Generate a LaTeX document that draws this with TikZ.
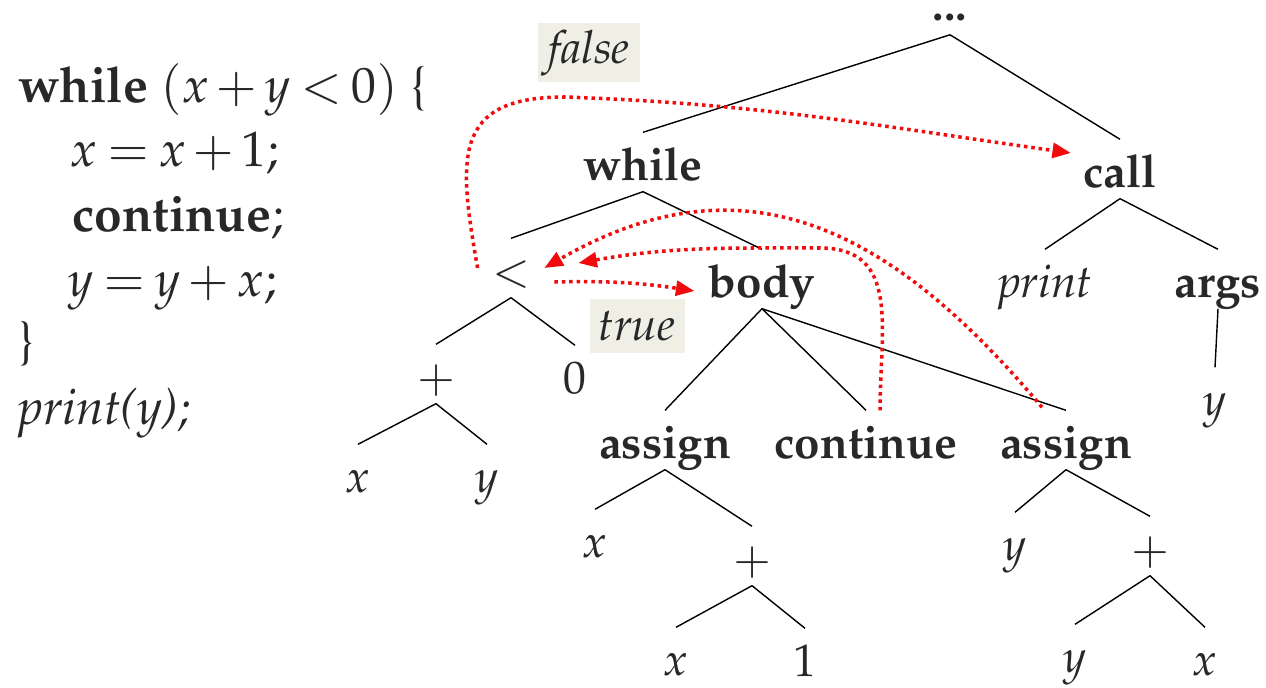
\documentclass[tikz,border=0pt]{standalone}
\usepackage[T1]{fontenc}
\usepackage{mathpazo}
\usetikzlibrary{arrows.meta,calc}

\definecolor{encre}{RGB}{40,40,40}
\definecolor{fond}{RGB}{239,239,229}
\definecolor{rouge}{RGB}{240,12,12}

\newcommand\serre{\thickmuskip=3.5mu\relax\medmuskip=2.5mu\relax}

\tikzset{
  mot/.style={inner xsep=0pt, inner ysep=3.7pt, text height=23.4pt, text depth=2.6pt,
    text=encre, font=\fontsize{26}{30}\selectfont},
  gras/.style={mot, font=\fontsize{26}{30}\selectfont\bfseries},
  code/.style={anchor=base west, inner sep=0pt, text=encre,
    font=\fontsize{28.3}{34}\selectfont},
  etiquette/.style={fill=fond, inner sep=0pt, text=encre, font=\fontsize{26}{30}\selectfont\itshape},
  branche/.style={line width=0.8pt},
  fleche/.style={draw=rouge, line width=2pt, dash pattern=on 2pt off 2.2pt,
    -{Triangle[length=10.5pt,width=8.5pt]}}
}

\begin{document}
\begin{tikzpicture}[x=0.02cm, y=0.02cm]
\useasboundingbox (0,0) rectangle (1266,-688);
%\draw[help lines,step=100] (0,0) grid (1266,-688);
% le programme
\node[code] (c1) at (18,-103) {\serre\textbf{while} $(x + y < 0)$ \{};
\node[code] (c2) at (70,-167) {\serre$x = x + 1$;};
\node[code] (c3) at (72,-232) {\textbf{continue};};
\node[code] (c4) at (68,-297) {\serre$y = y + x$;};
\node[code] (c5) at (18,-358) {\}};
\node[code] (c6) at (18,-425) {\textit{print(y);}};
% l'arbre
\node[gras, text height=5pt, text depth=0pt, inner ysep=3pt] (dots) at (950,-16) {...};
\node[gras] (while) at (643,-162) {while};
\node[gras] (call) at (1120,-169) {call};
\node[mot, inner xsep=0.28cm] (lt) at (511,-268) {$<$};
\node[gras] (body) at (762,-279) {body};
\node[mot] (print) at (1045,-279) {\itshape print};
\node[gras] (args) at (1218,-279) {args};
\node[mot] (ya) at (1215,-397) {$y$};
\node[mot] (plusL) at (436,-374) {$+$};
\node[mot] (zero) at (575,-375) {$0$};
\node[mot] (xL) at (358,-474) {$x$};
\node[mot] (yL) at (487,-474) {$y$};
\node[gras] (asgA) at (665,-440) {assign};
\node[gras] (cont) at (866,-440) {continue};
\node[gras] (asgB) at (1066,-440) {assign};
\node[mot] (xA) at (595,-539) {$x$};
\node[mot] (plusA) at (752,-556) {$+$};
\node[mot] (xA2) at (676,-657) {$x$};
\node[mot] (one) at (805,-658) {$1$};
\node[mot] (yB) at (1015,-542) {$y$};
\node[mot] (plusB) at (1150,-546) {$+$};
\node[mot] (yB2) at (1075,-654) {$y$};
\node[mot] (xB2) at (1205,-657) {$x$};
\node[etiquette, minimum width=2.04cm, minimum height=1.18cm] (false) at (589,-53) {false};
\node[etiquette, minimum width=1.9cm, minimum height=1.1cm] (true) at (637,-326) {true};

\draw[branche] ([yshift=-5pt]dots.south) -- (while.north);
\draw[branche] ([yshift=-5pt]dots.south) -- (call.north);
\draw[branche] (while.south) -- (lt.north);
\draw[branche] (while.south) -- (body.north);
\draw[branche] (call.south) -- (print.north);
\draw[branche] (call.south) -- (args.north);
\draw[branche] (args.south) -- (ya.north);
\draw[branche] (lt.south) -- (plusL.north);
\draw[branche] (lt.south) -- (zero.north);
\draw[branche] (plusL.south) -- (xL.north);
\draw[branche] (plusL.south) -- (yL.north);
\draw[branche] (body.south) -- (asgA.north);
\draw[branche] (body.south) -- (cont.north);
\draw[branche] (body.south) -- (asgB.north);
\draw[branche] (asgA.south) -- (xA.north);
\draw[branche] (asgA.south) -- (plusA.north);
\draw[branche] (plusA.south) -- (xA2.north);
\draw[branche] (plusA.south) -- (one.north);
\draw[branche] (asgB.south) -- (yB.north);
\draw[branche] (asgB.south) -- (plusB.north);
\draw[branche] (plusB.south) -- (yB2.north);
\draw[branche] (plusB.south) -- (xB2.north);

% sauts du flot de contrôle
\coordinate (hautF) at (565,-97);
\coordinate (hautC) at (820,-248);
\draw[fleche] (lt.west) to[out=100,in=180,looseness=1.5] (hautF)
  to[out=-2,in=172] ($(call.west)+(-12,16)$);
\draw[fleche] ($(lt.east)+(10,-14)$) to[bend left=5] ($(body.west)+(-14,-12)$);
\draw[fleche] ($(cont.north)+(14,0)$) to[out=90,in=0,looseness=1.2] (hautC)
  to[out=180,in=10] ($(lt.east)+(34,5)$);
\draw[fleche] ($(asgB.north)+(-24,3)$) to[out=130,in=30,looseness=1.15] (lt.east);
\end{tikzpicture}
\end{document}
